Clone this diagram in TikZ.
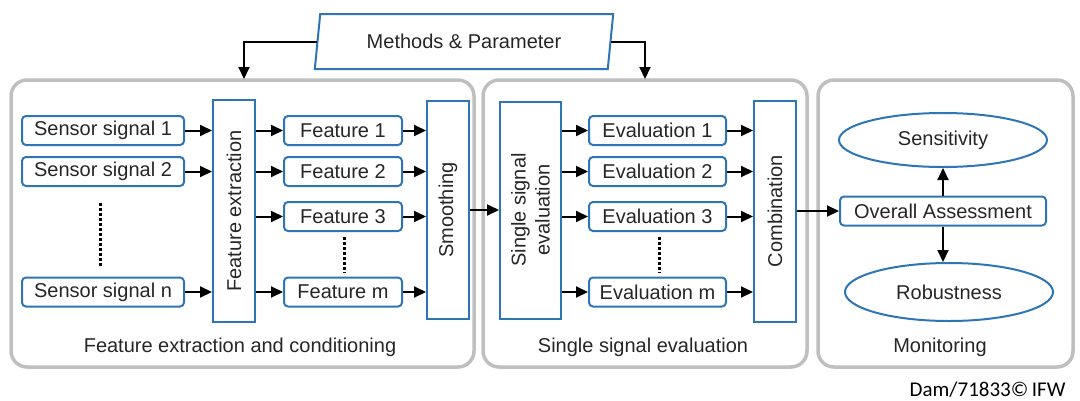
\documentclass[tikz,border=0pt]{standalone}
\usepackage{fontspec}
\setmainfont{Liberation Sans}
\newfontfamily\credfont{Carlito}
\usetikzlibrary{arrows.meta,shapes.geometric}
\definecolor{boxblue}{HTML}{2E75B6}
\definecolor{panelgray}{HTML}{BFBFBF}
\begin{document}
\begin{tikzpicture}[x=1pt,y=-1pt,
  every node/.style={font=\fontsize{20}{24}\selectfont, text=black!85},
  panel/.style={draw=panelgray, line width=3.5pt, rounded corners=16pt, inner sep=0pt},
  sbox/.style={draw=boxblue, line width=2pt, rounded corners=4pt, minimum height=29pt, inner sep=0pt},
  tbox/.style={draw=boxblue, line width=2pt, inner sep=0pt},
  ell/.style={draw=boxblue, line width=2pt, ellipse, inner sep=0pt},
  arr/.style={line width=2pt, -{Triangle[length=12pt,width=11pt]}},
  dotline/.style={line width=3pt, dash pattern=on 2.5pt off 2.5pt},
]
\useasboundingbox (0,0) rectangle (1080,400);
% panels
\node[panel, minimum width=463, minimum height=287] (p1) at (242.5,223.5) {};
\node[panel, minimum width=324, minimum height=287] (p2) at (645,223.5) {};
\node[panel, minimum width=255, minimum height=287] (p3) at (945.5,223.5) {};
% methods
\node[trapezium, trapezium left angle=76, trapezium right angle=104, trapezium stretches=true,
      draw=boxblue, line width=2pt, minimum width=299, minimum height=55, inner sep=0pt] (meth) at (464,41.5) {Methods \& Parameter};
\coordinate (ltgt) at (244,79);
\coordinate (rtgt) at (645,79);
\draw[arr] (meth.west) -| (ltgt);
\draw[arr] (meth.east) -| (rtgt);
% left panel
\node[sbox, minimum width=162] (s1) at (103,130.5) {Sensor signal 1};
\node[sbox, minimum width=162] (s2) at (103,171.5) {Sensor signal 2};
\node[sbox, minimum width=162] (sn) at (103,292) {Sensor signal n};
\coordinate (d1a) at (100,203);
\coordinate (d1b) at (100,266);
\draw[dotline] (d1a) -- (d1b);
\node[tbox, minimum width=42, minimum height=222] (fe) at (234,211) {};
\node[rotate=90] (fetxt) at (fe) {Feature extraction};
\node[sbox, minimum width=118] (f1) at (343,130.5) {Feature 1};
\node[sbox, minimum width=118] (f2) at (343,171.5) {Feature 2};
\node[sbox, minimum width=118] (f3) at (343,216.5) {Feature 3};
\node[sbox, minimum width=118] (fm) at (343,292) {Feature m};
\coordinate (d2a) at (344,237);
\coordinate (d2b) at (344,273);
\draw[dotline] (d2a) -- (d2b);
\node[tbox, minimum width=42, minimum height=218] (sm) at (448,210) {};
\node[rotate=90] (smtxt) at (sm) {Smoothing};
\foreach \s in {s1,s2,sn} \draw[arr] (\s.east) -- (\s.east -| fe.west);
\foreach \f in {f1,f2,f3,fm} {
  \draw[arr] (\f.west -| fe.east) -- (\f.west);
  \draw[arr] (\f.east) -- (\f.east -| sm.west);
}
\node (l1) at (240,347) {Feature extraction and conditioning};
% middle panel
\node[tbox, minimum width=61, minimum height=217] (sse) at (530.5,210) {};
\node[rotate=90, align=center] (ssetxt) at (sse) {Single signal\\evaluation};
\draw[arr] (sm.east) -- (sse.west);
\node[sbox, minimum width=137] (e1) at (657.5,130.5) {Evaluation 1};
\node[sbox, minimum width=137] (e2) at (657.5,171.5) {Evaluation 2};
\node[sbox, minimum width=137] (e3) at (657.5,216.5) {Evaluation 3};
\node[sbox, minimum width=137] (em) at (657.5,292) {Evaluation m};
\coordinate (d3a) at (659,237);
\coordinate (d3b) at (659,273);
\draw[dotline] (d3a) -- (d3b);
\node[tbox, minimum width=42, minimum height=221] (cb) at (775,211) {};
\node[rotate=90] (cbtxt) at (cb) {Combination};
\foreach \e in {e1,e2,e3,em} {
  \draw[arr] (\e.west -| sse.east) -- (\e.west);
  \draw[arr] (\e.east) -- (\e.east -| cb.west);
}
\node (l2) at (643,347) {Single signal evaluation};
% right panel
\node[sbox, minimum width=206] (ov) at (943,211) {Overall Assessment};
\node[ell, minimum width=208, minimum height=54] (sens) at (943,140) {Sensitivity};
\node[ell, minimum width=208, minimum height=58] (rob) at (949,292) {Robustness};
\draw[arr] (cb.east) -- (ov.west);
\draw[arr] (ov.north) -- (sens.south);
\draw[arr] (ov.south) -- (ov.south |- rob.north);
\node (l3) at (940,347) {Monitoring};
\node[anchor=east, font=\credfont\fontsize{21}{24}\selectfont, text=black] (cred) at (1069,390) {Dam/71833©\,IFW};
\end{tikzpicture}
\end{document}
